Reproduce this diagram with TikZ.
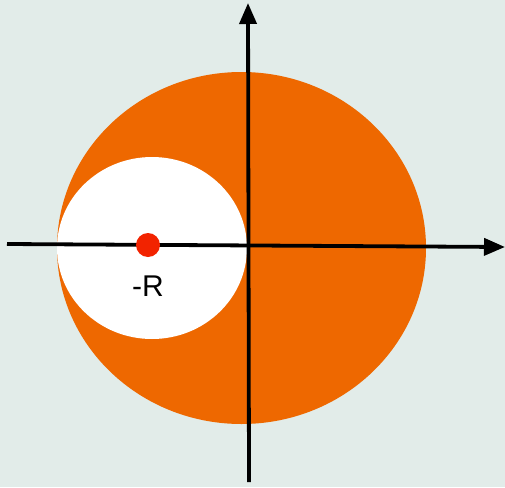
\documentclass[tikz,border=0pt]{standalone}
\usepackage{fontspec}
\setmainfont{Liberation Sans}
\usetikzlibrary{arrows.meta}
\definecolor{bg}{HTML}{E2ECE9}
\definecolor{disk}{HTML}{EE6800}
\definecolor{dot}{HTML}{F22300}
\tikzset{
  axis/.style={line width=3.8pt, draw=black, -{Triangle[length=21pt,width=17pt]}},
}
\begin{document}
\begin{tikzpicture}[x=1pt,y=-1pt]
  \fill[bg] (0,0) rectangle (505,487);
  \useasboundingbox (0,0) rectangle (505,487);
  \fill[disk] (241.5,248) ellipse [x radius=184.5, y radius=176];
  \fill[white] (152,248) ellipse [x radius=95, y radius=91];
  \coordinate (xl) at (7,244);
  \coordinate (xr) at (505,247);
  \coordinate (yb) at (249,482);
  \coordinate (yt) at (248,3);
  \draw[axis] (xl) -- (xr);
  \draw[axis] (yb) -- (yt);
  \fill[dot] (148,245) circle [radius=12];
  \node[font=\fontsize{30}{36}\selectfont, inner sep=0pt] (lab) at (148,286) {-R};
\end{tikzpicture}
\end{document}
